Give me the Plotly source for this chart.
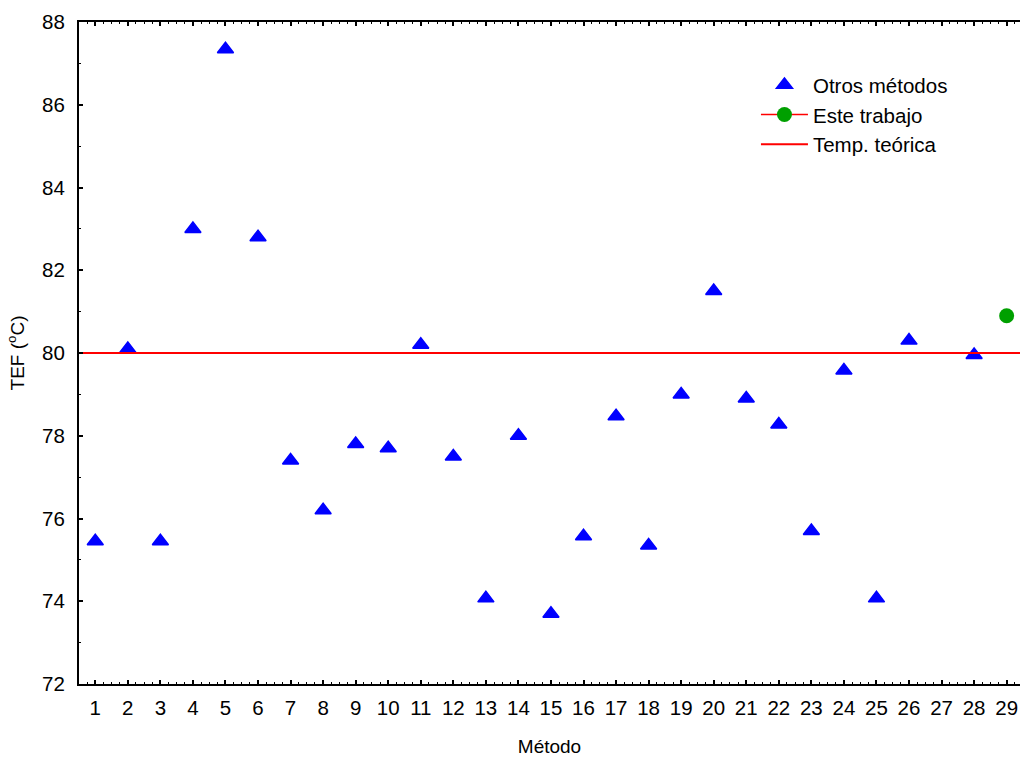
import plotly.graph_objects as go

# ---- data ----
otros_x = [1, 2, 3, 4, 5, 6, 7, 8, 9, 10, 11, 12, 13, 14, 15, 16, 17, 18,
           19, 20, 21, 22, 23, 24, 25, 26, 28]
otros_y = [75.45, 80.1, 75.45, 83.0, 87.34, 82.8, 77.4, 76.2, 77.8, 77.7,
           80.2, 77.5, 74.07, 78.0, 73.7, 75.57, 78.47, 75.35, 79.0, 81.5,
           78.9, 78.27, 75.7, 79.58, 74.07, 80.3, 79.95]
este_x = [29]
este_y = [80.9]
temp_teorica = 80.0
x_ticks = list(range(1, 30))
y_ticks = list(range(72, 89, 2))

FONT = "Liberation Sans, Arial, sans-serif"

fig = go.Figure()
fig.add_trace(go.Scatter(
    x=otros_x, y=otros_y, mode="markers", name="Otros métodos",
    marker=dict(symbol="triangle-up", size=14, color="#0000FF",
                line=dict(color="#0000FF", width=1.5)),
    cliponaxis=False))
fig.add_trace(go.Scatter(
    x=este_x, y=este_y, mode="lines+markers", name="Este trabajo",
    line=dict(color="#FF0000", width=1.5),
    marker=dict(symbol="circle", size=15, color="#00A000"),
    cliponaxis=False))
fig.add_trace(go.Scatter(
    x=[x_ticks[0] - 0.5, x_ticks[-1] + 0.5], y=[temp_teorica, temp_teorica],
    mode="lines", name="Temp. teórica",
    line=dict(color="#FF0000", width=2)))

fig.update_layout(
    width=1020, height=757,
    margin=dict(l=79, r=0, t=22, b=73),
    paper_bgcolor="white", plot_bgcolor="white",
    font=dict(family=FONT, size=20, color="black"),
    showlegend=True,
    legend=dict(x=0.7194, y=0.935, xanchor="left", yanchor="top",
                bgcolor="rgba(0,0,0,0)", font=dict(size=20.5, family=FONT),
                itemwidth=47, tracegroupgap=0),
)
fig.update_xaxes(
    range=[0.5, 29.41], tickmode="array", tickvals=x_ticks,
    ticktext=[str(v) for v in x_ticks],
    tickfont=dict(size=20.5),
    showgrid=False, zeroline=False,
    showline=True, linecolor="black", linewidth=2, mirror="ticks",
    ticks="inside", ticklen=4, tickwidth=1.5, tickcolor="black",
    ticklabelstandoff=4,
    minor=dict(dtick=0.25, tick0=0.5, ticks="inside", ticklen=2, tickwidth=1,
               tickcolor="black", showgrid=False),
    title=dict(text="Método", font=dict(size=19, family=FONT), standoff=26),
    automargin=False,
)
fig.update_yaxes(
    range=[72, 88], tickmode="array", tickvals=y_ticks,
    tickfont=dict(size=20.5),
    showgrid=False, zeroline=False,
    showline=True, linecolor="black", linewidth=2, mirror=False,
    ticks="inside", ticklen=4, tickwidth=1.5, tickcolor="black",
    ticklabelstandoff=8,
    minor=dict(dtick=1, ticks="inside", ticklen=2, tickwidth=1,
               tickcolor="black", showgrid=False),
    title=dict(text="TEF (<sup>o</sup>C)", font=dict(size=19, family=FONT),
               standoff=12),
    automargin=False,
)

fig.write_html("out.html")
